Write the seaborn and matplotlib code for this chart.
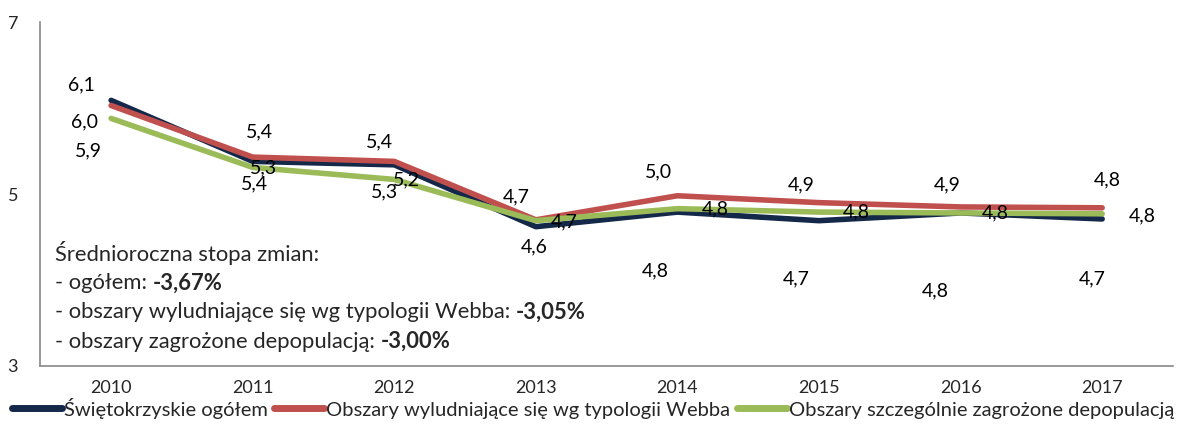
import matplotlib
matplotlib.use("Agg")
import matplotlib.pyplot as plt
import seaborn as sns
import pandas as pd

years = ["2010", "2011", "2012", "2013", "2014", "2015", "2016", "2017"]
swietokrzyskie = [6.09, 5.38, 5.34, 4.62, 4.79, 4.69, 4.78, 4.71]
webb = [6.03, 5.43, 5.38, 4.70, 4.98, 4.90, 4.85, 4.84]
zagrozone = [5.88, 5.31, 5.17, 4.69, 4.83, 4.79, 4.78, 4.77]

lab_swiet = ["6,1", "5,4", "5,3", "4,6", "4,8", "4,7", "4,8", "4,7"]
lab_webb = ["6,0", "5,4", "5,4", "4,7", "5,0", "4,9", "4,9", "4,8"]
lab_zagr = ["5,9", "5,3", "5,2", "4,7", "4,8", "4,8", "4,8", "4,8"]

names = ["Świętokrzyskie ogółem",
         "Obszary wyludniające się wg typologii Webba",
         "Obszary szczególnie zagrożone depopulacją"]
colors = ["#14284A", "#C0504D", "#9BBB59"]

# label offsets in pixels (dx, dy image-down)
off_swiet = [(-30, -15), (2, 22), (-10, 27), (-2, 20), (-22, 59), (-23, 58), (-25, 78), (-10, 60)]
off_webb = [(-27, 16), (7, -25), (-15, -20), (-20, -23), (-19, -24), (-18, -18), (-13, -22), (5, -28)]
off_zagr = [(-23, 32), (11, 0), (12, 0), (28, 1), (38, 0), (37, 0), (35, 0), (40, 2)]

sns.set_style("white")
plt.rcParams["font.family"] = ["Lato", "DejaVu Sans"]

df = pd.DataFrame({
    "x": list(range(len(years))) * 3,
    "value": swietokrzyskie + webb + zagrozone,
    "series": [names[0]] * 8 + [names[1]] * 8 + [names[2]] * 8,
})

fig = plt.figure(figsize=(11.86, 4.26), dpi=100)
ax = fig.add_axes([0.034, 0.141, 0.955, 0.807])

sns.lineplot(data=df, x="x", y="value", hue="series", palette=colors,
             linewidth=4.0, ax=ax, legend=False, zorder=3)

fs_lab = 14
for vals, labs, offs in [(webb, lab_webb, off_webb), (swietokrzyskie, lab_swiet, off_swiet),
                         (zagrozone, lab_zagr, off_zagr)]:
    for i, (v, l, (dx, dy)) in enumerate(zip(vals, labs, offs)):
        ax.annotate(l, (i, v), xytext=(dx, -dy), textcoords="offset pixels",
                    ha="center", va="center", fontsize=fs_lab, color="black", zorder=5)

ax.set_xlim(-0.5, 7.5)
ax.set_ylim(3, 7)
ax.set_yticks([3, 5, 7])
ax.set_yticklabels(["3", "5", "7"], fontsize=13)
ax.set_xticks([i - 0.5 for i in range(9)])
ax.set_xticklabels([])
ax.set_xticks(range(8), minor=True)
ax.set_xticklabels(years, minor=True, fontsize=13)
ax.tick_params(axis="x", which="major", length=6, width=1, color="#888888", direction="out")
ax.tick_params(axis="x", which="minor", length=0, pad=10)
ax.tick_params(axis="y", length=6, width=1, color="#888888", direction="out", pad=10)
for s in ["top", "right"]:
    ax.spines[s].set_visible(False)
for s in ["left", "bottom"]:
    ax.spines[s].set_color("#888888")
    ax.spines[s].set_linewidth(1.2)
ax.set_xlabel("")
ax.set_ylabel("")

# annual rate text
fs = 15.8
tx = 0.013
ax.text(tx, 0.328, "Średnioroczna stopa zmian:", transform=ax.transAxes, fontsize=fs, va="center")
rows = [("- ogółem: ", "-3,67%"),
        ("- obszary wyludniające się wg typologii Webba: ", "-3,05%"),
        ("- obszary zagrożone depopulacją: ", "-3,00%")]
for k, (a, b) in enumerate(rows):
    t = ax.text(tx, 0.241 - k * 0.085, a, transform=ax.transAxes, fontsize=fs, va="center")
    ax.annotate(b, xy=(1, 0.5), xycoords=t, va="center", ha="left",
                fontsize=fs, fontweight="bold")

handles = [plt.Line2D([0], [0], color=c, lw=5) for c in colors]
fig.legend(handles, names, loc="lower center", bbox_to_anchor=(0.5, -0.025), ncol=3,
           frameon=False, fontsize=14.5, handlelength=2.5, handletextpad=0.1,
           columnspacing=0.3)

fig.savefig("out.png", dpi=100)
